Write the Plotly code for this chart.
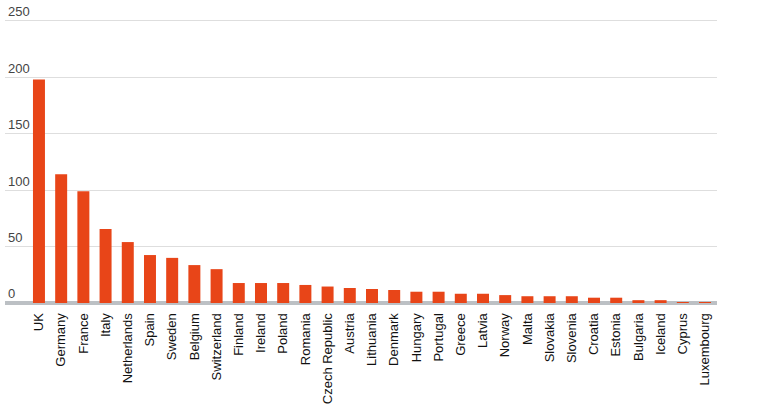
import plotly.graph_objects as go

countries = ['UK', 'Germany', 'France', 'Italy', 'Netherlands', 'Spain', 'Sweden',
             'Belgium', 'Switzerland', 'Finland', 'Ireland', 'Poland', 'Romania',
             'Czech Republic', 'Austria', 'Lithuania', 'Denmark', 'Hungary', 'Portugal',
             'Greece', 'Latvia', 'Norway', 'Malta', 'Slovakia', 'Slovenia', 'Croatia',
             'Estonia', 'Bulgaria', 'Iceland', 'Cyprus', 'Luxembourg']
values = [198, 114, 99, 65.5, 54, 42.5, 40, 33.6, 30, 17.7, 17.7, 17.7, 16,
          14.6, 13.3, 12.4, 11.5, 10, 10, 8.2, 8.2, 7, 6, 6, 6, 4.7,
          4.7, 2.5, 2.5, 0.7, 0.7]
y_ticks = [0, 50, 100, 150, 200, 250]

fig = go.Figure()
fig.add_trace(go.Bar(
    x=countries,
    y=values,
    marker=dict(color='#E84518', line=dict(width=0)),
))

fig.update_layout(
    width=764,
    height=414,
    margin=dict(l=5, r=47, t=4, b=111),
    paper_bgcolor='white',
    plot_bgcolor='white',
    bargap=0.46,
    showlegend=False,
    font=dict(family='Liberation Sans, Arial, sans-serif', size=13, color='#111111'),
)

fig.update_xaxes(
    range=[-1.53, len(countries) - 0.46],
    tickangle=-90,
    showgrid=False,
    showline=False,
    ticks='outside',
    ticklen=4,
    tickcolor='rgba(0,0,0,0)',
    tickfont=dict(size=13),
    automargin=False,
)

# extra headroom so the 250 label (drawn above its gridline) is not hidden
fig.update_yaxes(
    range=[0, 265],
    tickvals=y_ticks,
    ticklabelposition='inside top',
    showgrid=True,
    gridcolor='#dedede',
    gridwidth=1,
    zeroline=True,
    zerolinecolor='#bcc0c4',
    zerolinewidth=4,
    showline=False,
    ticks='',
    tickfont=dict(size=13),
    automargin=False,
)

fig.write_html("out.html", config={'displayModeBar': False},
               post_script="document.body.style.margin='0';")
